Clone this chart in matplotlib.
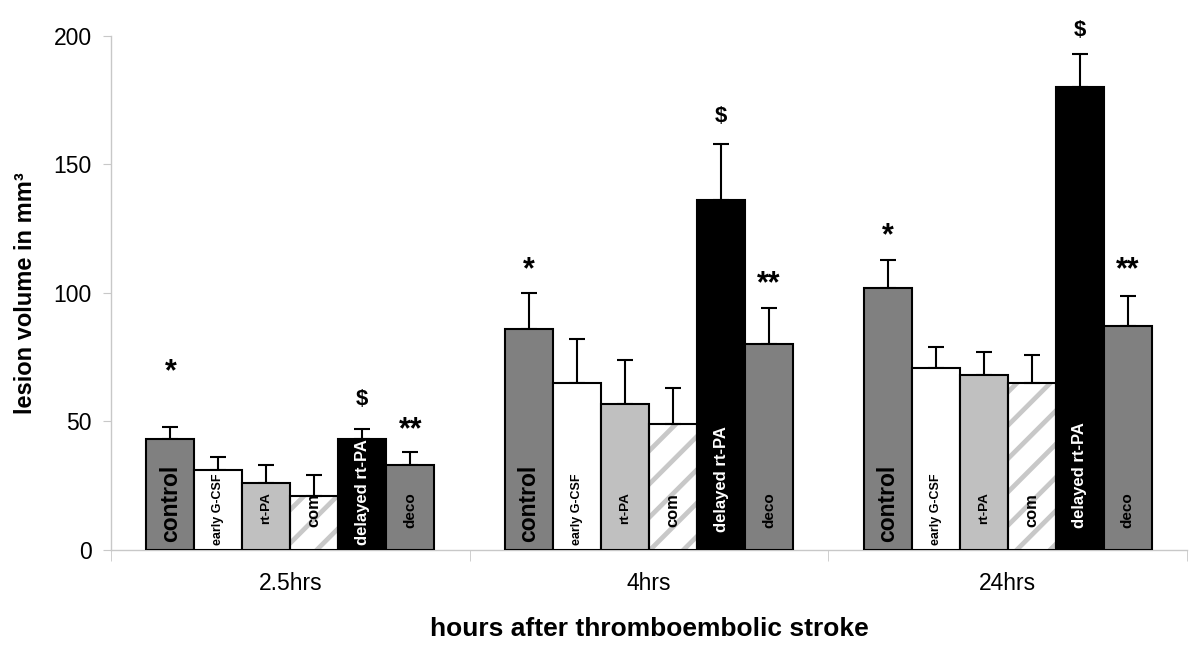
import matplotlib
matplotlib.use("Agg")
import matplotlib.pyplot as plt
import numpy as np

plt.rcParams['font.family'] = ['Liberation Sans', 'DejaVu Sans']
plt.rcParams['hatch.linewidth'] = 3.4

# ---- data ----
timepoints = ["2.5hrs", "4hrs", "24hrs"]
groups = ["control", "early G-CSF", "rt-PA", "com", "delayed rt-PA", "deco"]
means = {
    "control":       [43, 86, 102],
    "early G-CSF":   [31, 65, 71],
    "rt-PA":         [26, 57, 68],
    "com":           [21, 49, 65],
    "delayed rt-PA": [43, 136, 180],
    "deco":          [33, 80, 87],
}
errors = {
    "control":       [5, 14, 11],
    "early G-CSF":   [5, 17, 8],
    "rt-PA":         [7, 17, 9],
    "com":           [8, 14, 11],
    "delayed rt-PA": [4, 22, 13],
    "deco":          [5, 14, 12],
}
# significance marks: (group, timepoint index, text, y value)
marks = [
    ("control", 0, "*", 69), ("delayed rt-PA", 0, "$", 58.5), ("deco", 0, "**", 46.5),
    ("control", 1, "*", 109), ("delayed rt-PA", 1, "$", 168.5), ("deco", 1, "**", 103.5),
    ("control", 2, "*", 122), ("delayed rt-PA", 2, "$", 202), ("deco", 2, "**", 109),
]
yticks = [0, 50, 100, 150, 200]

# ---- styles ----
face = {"control": "#808080", "early G-CSF": "#ffffff", "rt-PA": "#c0c0c0",
        "com": "#ffffff", "delayed rt-PA": "#000000", "deco": "#808080"}
label_style = {
    "control": dict(fontsize=16.5, color="black", yc=[18, 18, 18]),
    "early G-CSF": dict(fontsize=9, color="black", yc=[16, 16, 16]),
    "rt-PA": dict(fontsize=9.7, color="black", yc=[16.3, 16.3, 16.3]),
    "com": dict(fontsize=11.9, color="black", yc=[15.6, 15.6, 15.6]),
    "delayed rt-PA": dict(fontsize=12, color="white", yc=[22.4, 27.6, 29.2]),
    "deco": dict(fontsize=11, color="black", yc=[15.6, 15.6, 15.6]),
}

fig = plt.figure(figsize=(12, 6.59), dpi=100)
ax = fig.add_axes([0.0925, 0.1654, 0.8967, 0.78])

x = np.arange(len(timepoints))
n = len(groups)
w = 0.1338
axis_gray = "#c8c8c8"

for i, g in enumerate(groups):
    xpos = x + (i - (n - 1) / 2) * w
    if g == "com":
        ax.bar(xpos, means[g], width=w, color="white", edgecolor="#c8c8c8",
               hatch="/", linewidth=0, zorder=2)
        ax.bar(xpos, means[g], width=w, color="none", edgecolor="black",
               linewidth=1.5, zorder=3)
    else:
        ax.bar(xpos, means[g], width=w, color=face[g], edgecolor="black",
               linewidth=1.5, zorder=3)
    ax.errorbar(xpos, means[g], yerr=[np.zeros(len(x)), errors[g]], fmt="none",
                ecolor="black", elinewidth=1.5, capsize=6, capthick=1.5, zorder=2)
    st = label_style[g]
    for k, xi in enumerate(xpos):
        ax.text(xi, st["yc"][k], g, rotation=90, ha="center", va="center",
                fontsize=st["fontsize"], fontweight="bold",
                color=st["color"], zorder=4, clip_on=True)

for g, ti, txt, yv in marks:
    i = groups.index(g)
    xi = x[ti] + (i - (n - 1) / 2) * w
    fs = 16 if txt == "$" else 22
    ax.text(xi, yv, txt, ha="center", va="center", fontsize=fs,
            fontweight="bold", color="black", zorder=5)

ax.set_xlim(-0.5, 2.5)
ax.set_ylim(0, 200)
ax.set_yticks(yticks)
ax.set_yticklabels([str(v) for v in yticks], fontsize=16.5)
ax.set_xticks(x)
ax.set_xticklabels(timepoints, fontsize=16.5)
ax.tick_params(axis="x", length=0, pad=16)
ax.tick_params(axis="y", length=6, color=axis_gray, pad=8)
ax.set_xticks([-0.5, 0.5, 1.5, 2.5], minor=True)
ax.tick_params(axis="x", which="minor", length=8, color=axis_gray, direction="out")

for s in ["top", "right"]:
    ax.spines[s].set_visible(False)
for s in ["left", "bottom"]:
    ax.spines[s].set_color(axis_gray)
    ax.spines[s].set_linewidth(1.0)

ax.set_ylabel("lesion volume in mm³", fontsize=17, fontweight="bold", labelpad=12)
ax.set_xlabel("hours after thromboembolic stroke", fontsize=19, fontweight="bold",
              labelpad=16)

fig.savefig("out.png", dpi=100)
